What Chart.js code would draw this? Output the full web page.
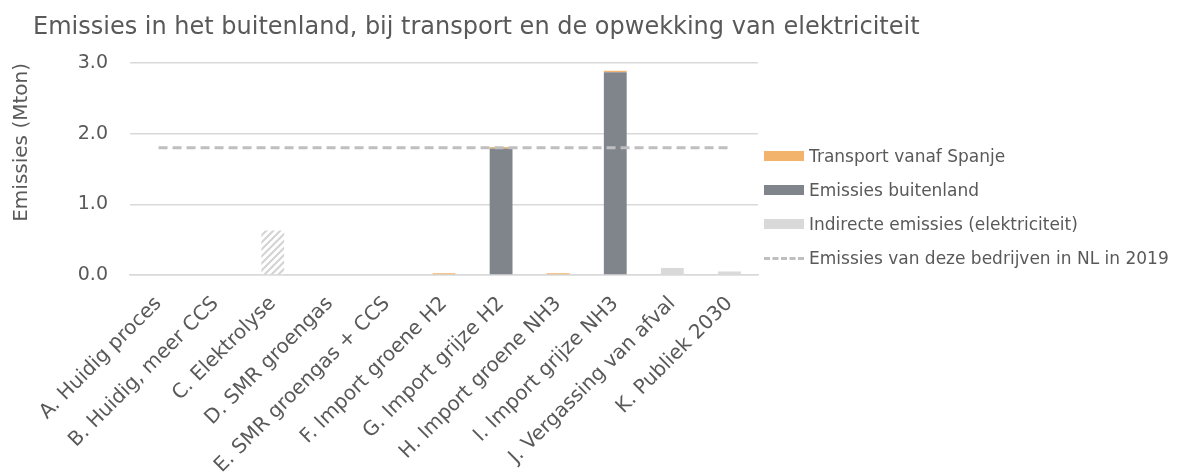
<!DOCTYPE html>
<html>
<head>
<meta charset="utf-8">
<script src="https://cdn.jsdelivr.net/npm/chart.js@4"></script>
<style>
    html, body { margin: 0; padding: 0; background: #fff; }
    #wrap { position: relative; width: 1177px; height: 473px; font-family: "DejaVu Sans", sans-serif; color: #595959; }
    #title { position: absolute; left: 33px; top: 14px; font-size: 24px; line-height: 1; white-space: nowrap; }
    #legend { position: absolute; left: 764px; top: 139px; font-size: 17px; }
    .item { height: 34px; display: flex; align-items: center; white-space: nowrap; }
    .swatch { width: 40px; height: 10px; margin-right: 5px; }
    .dash { width: 40px; height: 0; border-top: 3px dashed #bfbfbf; margin-right: 5px; }
</style>
</head>
<body>
<div id="wrap">
    <div id="title">Emissies in het buitenland, bij transport en de opwekking van elektriciteit</div>
    <canvas id="chart" width="1177" height="473"></canvas>
    <div id="legend"></div>
</div>
<script>
const categories = [
    "A. Huidig proces", "B. Huidig, meer CCS", "C. Elektrolyse", "D. SMR groengas",
    "E. SMR groengas + CCS", "F. Import groene H2", "G. Import grijze H2",
    "H. Import groene NH3", "I. Import grijze NH3", "J. Vergassing van afval", "K. Publiek 2030"
];
const emissiesBuitenland = [0, 0, 0, 0, 0, 0, 1.79, 0, 2.87, 0, 0];
const indirecteEmissies = [0, 0, 0.63, 0, 0, 0, 0, 0, 0, 0.10, 0.05];
const transportSpanje = [0, 0, 0, 0, 0, 0.025, 0.02, 0.025, 0.02, 0, 0];
const emissiesNL2019 = [1.8, 1.8, 1.8, 1.8, 1.8, 1.8, 1.8, 1.8, 1.8, 1.8, 1.8];
const yTicks = [0, 1, 2, 3];

const ORANGE = "#f2b46c";
const DARK = "#80858b";
const LIGHT = "#d9d9d9";
const REF = "#bfbfbf";

// striped fill for the electrolysis bar
function hatchPattern() {
    const c = document.createElement("canvas");
    c.width = 7; c.height = 7;
    const g = c.getContext("2d");
    g.fillStyle = "#fff";
    g.fillRect(0, 0, 7, 7);
    g.strokeStyle = "#d3d3d3";
    g.lineWidth = 2;
    g.beginPath();
    g.moveTo(-1, 8); g.lineTo(8, -1);
    g.moveTo(-4, 4); g.lineTo(4, -4);
    g.moveTo(3, 11); g.lineTo(11, 3);
    g.stroke();
    return g.createPattern(c, "repeat");
}
const hatch = hatchPattern();
const indirectColors = categories.map((c, i) => i === 2 ? hatch : LIGHT);

new Chart(document.getElementById("chart").getContext("2d"), {
    type: "bar",
    data: {
        labels: categories,
        datasets: [
            {
                label: "Emissies buitenland",
                data: emissiesBuitenland,
                backgroundColor: DARK,
                stack: "s",
                order: 2
            },
            {
                label: "Indirecte emissies (elektriciteit)",
                data: indirecteEmissies,
                backgroundColor: indirectColors,
                stack: "s",
                order: 2
            },
            {
                label: "Transport vanaf Spanje",
                data: transportSpanje,
                backgroundColor: ORANGE,
                stack: "s",
                order: 2
            },
            {
                type: "line",
                label: "Emissies van deze bedrijven in NL in 2019",
                data: emissiesNL2019,
                borderColor: REF,
                borderWidth: 3,
                borderDash: [9, 5],
                pointRadius: 0,
                fill: false,
                stack: "ref",
                order: 1
            }
        ]
    },
    options: {
        responsive: false,
        animation: false,
        layout: { padding: { top: 63, right: 419, bottom: 0, left: 0 } },
        datasets: { bar: { categoryPercentage: 1, barPercentage: 0.4 } },
        plugins: {
            legend: { display: false },
            tooltip: { enabled: false }
        },
        scales: {
            x: {
                stacked: true,
                grid: { display: false },
                border: { color: LIGHT, width: 1.5 },
                ticks: {
                    color: "#595959",
                    font: { family: "DejaVu Sans", size: 20 },
                    maxRotation: 45,
                    minRotation: 45,
                    padding: 9
                },
                afterFit: s => { s.height = 198; }
            },
            y: {
                stacked: true,
                min: 0,
                max: 3,
                afterBuildTicks: s => { s.ticks = yTicks.map(v => ({ value: v })); },
                grid: { color: LIGHT, lineWidth: 1.5, drawTicks: false },
                border: { display: false },
                ticks: {
                    color: "#595959",
                    font: { family: "DejaVu Sans", size: 19 },
                    padding: 22,
                    callback: v => v.toFixed(1)
                },
                title: {
                    display: true,
                    text: "Emissies (Mton)",
                    align: "end",
                    color: "#595959",
                    font: { family: "DejaVu Sans", size: 20 },
                    padding: { top: 10, bottom: 0 }
                },
                afterFit: s => { s.width = 130; }
            }
        }
    }
});

// legend in the order of the reference
const legendItems = [
    { label: "Transport vanaf Spanje", color: ORANGE },
    { label: "Emissies buitenland", color: DARK },
    { label: "Indirecte emissies (elektriciteit)", color: LIGHT },
    { label: "Emissies van deze bedrijven in NL in 2019", dashed: true }
];
document.getElementById("legend").innerHTML = legendItems.map(it => `
    <div class="item">
        ${it.dashed ? `<span class="dash"></span>` : `<span class="swatch" style="background:${it.color}"></span>`}
        <span>${it.label}</span>
    </div>`).join("");
</script>
</body>
</html>
